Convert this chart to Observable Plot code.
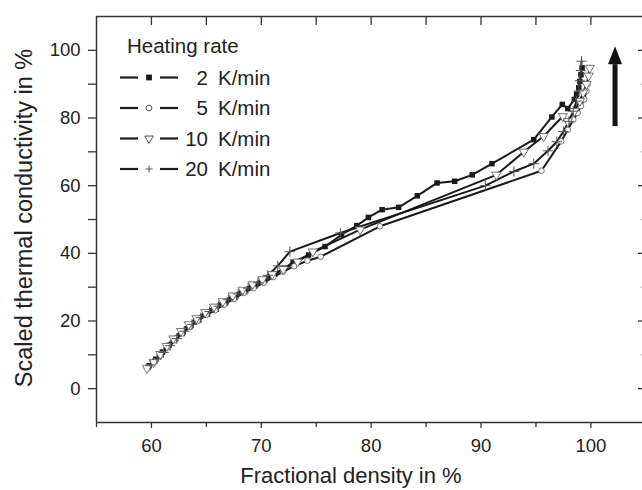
<!DOCTYPE html>
<html><head><meta charset="utf-8">
<script src="https://cdn.jsdelivr.net/npm/d3@7"></script>
<script src="https://cdn.jsdelivr.net/npm/@observablehq/plot@0.6"></script>
<style>
body{margin:0;background:#fff;}
#chart{width:642px;height:490px;}
</style></head><body><div id="chart"></div>
<script>
// ---- data ----
const seriesNames = ["2", "5", "10", "20"];
const rate2x = [59.8,60.4,61.0,61.6,62.2,62.9,63.6,64.3,65.1,65.9,66.7,67.6,68.5,69.4,70.3,71.2,72.1,72.9,74.3,75.8,77.3,78.7,79.75,81.0,82.5,84.2,86.0,87.6,89.2,91.0,94.8,96.45,97.4,97.9,98.5,98.7,98.9,99.0,99.1,99.2];
const rate2y = [6.8,8.7,10.8,12.8,14.7,16.8,18.7,20.3,22.0,23.5,25.3,27.0,28.7,30.3,32.0,33.8,35.6,37.4,39.5,42.0,45.5,48.2,50.6,52.9,53.6,57.0,60.8,61.3,63.2,66.5,73.6,80.3,84.0,82.8,85.5,87.0,88.9,90.8,92.8,94.8];
const rate5x = [59.7,60.3,60.9,61.5,62.1,62.8,63.5,64.2,65.0,65.8,66.6,67.5,68.4,69.3,70.2,71.1,72.0,73.0,74.2,75.4,80.8,95.5,97.3,97.9,98.4,98.8,99.1,99.4,99.6,99.7];
const rate5y = [6.2,8.0,10.0,12.3,14.3,16.3,18.2,20.0,21.8,23.2,24.8,26.5,28.3,29.7,31.3,33.0,34.6,36.2,37.8,39.0,48.0,64.4,73.1,76.5,79.5,81.5,83.5,85.5,88.0,90.0];
const rate10x = [59.6,60.2,60.8,61.4,62.0,62.7,63.4,64.1,64.9,65.7,66.5,67.4,68.3,69.2,70.1,71.0,72.0,73.3,74.7,79.0,91.4,93.9,95.7,97.45,97.9,98.5,99.0,99.3,99.6,99.8,99.9];
const rate10y = [6.0,7.8,10.2,12.6,14.8,17.0,19.0,20.8,22.6,24.2,25.8,27.5,29.2,30.8,32.3,33.8,35.3,37.5,40.5,47.0,63.2,70.0,74.6,80.5,79.0,82.0,85.0,87.5,90.0,92.5,94.8];
const rate20x = [59.9,60.5,61.1,61.7,62.3,63.0,63.7,64.5,65.3,66.1,67.0,67.9,68.8,69.7,70.6,71.5,72.6,77.2,90.4,93.0,94.8,96.1,96.9,97.5,98.0,98.4,98.7,98.9,99.0,99.1,99.15];
const rate20y = [7.0,8.8,10.7,12.7,14.8,17.0,19.0,21.0,22.8,24.4,26.3,28.0,29.7,31.3,33.5,36.3,40.5,46.0,60.0,64.2,66.5,70.3,73.0,76.0,79.0,82.0,85.0,88.0,91.0,94.0,96.8];

const xTicksMajor = [60, 70, 80, 90, 100];
const xTicksMinor = [55, 65, 75, 85, 95];
const xTicksTop = [60, 65, 70, 75, 80, 85, 90, 95, 100];
const yTicksMajor = [0, 20, 40, 60, 80, 100];
const yTicksMinor = [10, 30, 50, 70, 90];
const xDomain = [55, 104.7];
const yDomain = [-10, 110];
const arrowX = [102.2];
const arrowY = [77.6, 95.9];

const xLabel = "Fractional density in %";
const yLabel = "Scaled thermal conductivity in %";
const legendTitle = "Heating rate";
const unitLabel = "K/min";

// ---- build tidy table ----
const seriesX = [rate2x, rate5x, rate10x, rate20x];
const seriesY = [rate2y, rate5y, rate10y, rate20y];
const rows = [];
seriesNames.forEach((s, i) => seriesX[i].forEach((x, j) => rows.push({rate: s, x, y: seriesY[i][j]})));
const of = s => rows.filter(d => d.rate === s);

const font = "'Liberation Sans', Arial, Helvetica, sans-serif";
const ink = "#1a1a1a";
const axisInk = "#333";

const headSymbol = {draw(ctx) { ctx.moveTo(0, -18); ctx.lineTo(7, 0); ctx.lineTo(-7, 0); ctx.closePath(); }};

const plot = Plot.plot({
  width: 642, height: 490,
  marginLeft: 96, marginRight: 0, marginTop: 16, marginBottom: 68,
  style: {fontFamily: font, fontSize: "18.5px", color: "#222", background: "white", overflow: "visible"},
  x: {domain: xDomain},
  y: {domain: yDomain},
  marks: [
    Plot.ruleX([xDomain[0]], {stroke: axisInk, strokeWidth: 1.5}),
    Plot.ruleY([yDomain[0]], {stroke: axisInk, strokeWidth: 1.5}),
    Plot.ruleY([yDomain[1]], {stroke: axisInk, strokeWidth: 1.5}),
    Plot.axisY({ticks: yTicksMajor, tickSize: 8, tickPadding: 8, label: null, stroke: axisInk, strokeWidth: 1.3, fontSize: 18.5}),
    Plot.axisY({ticks: yTicksMinor, tickSize: 8, tickFormat: () => "", label: null, stroke: axisInk, strokeWidth: 1.3}),
    Plot.axisX({ticks: xTicksMajor, tickSize: 6, tickPadding: 10, label: null, stroke: axisInk, strokeWidth: 1.3, fontSize: 18.5}),
    Plot.axisX({ticks: xTicksMinor, tickSize: 5, tickFormat: () => "", label: null, stroke: axisInk, strokeWidth: 1.3}),
    Plot.axisX({anchor: "top", ticks: xTicksTop, tickSize: -8, tickFormat: () => "", label: null, stroke: axisInk, strokeWidth: 1.3}),
    Plot.axisY({anchor: "right", ticks: yTicksMajor, tickSize: -5, tickFormat: () => "", label: null, stroke: axisInk, strokeWidth: 1.3}),
    Plot.axisY({anchor: "right", ticks: yTicksMinor, tickSize: -3, tickFormat: () => "", label: null, stroke: axisInk, strokeOpacity: 0.3}),
    // lines
    ...seriesNames.map(s => Plot.line(of(s), {x: "x", y: "y", stroke: ink, strokeWidth: 2})),
    // markers
    Plot.dot(of("2"), {x: "x", y: "y", symbol: "square", r: 3.1, fill: ink, stroke: "none"}),
    Plot.dot(of("5"), {x: "x", y: "y", symbol: "circle", r: 2.8, fill: "white", stroke: "#666", strokeWidth: 0.9}),
    Plot.dot(of("10"), {x: "x", y: "y", symbol: "triangle", rotate: 180, r: 3.4, fill: "white", stroke: "#666", strokeWidth: 0.9}),
    Plot.dot(of("20"), {x: "x", y: "y", symbol: "plus", r: 3.4, stroke: "#555", strokeWidth: 1}),
    // arrow
    Plot.link(arrowX, {x1: d => d, x2: d => d, y1: () => arrowY[0], y2: () => arrowY[1], stroke: "#111", strokeWidth: 5}),
    Plot.dot(arrowX, {x: d => d, y: () => arrowY[1], symbol: headSymbol, fill: "#111", stroke: "none", r: 5})
  ]
});

// ---- axis titles & legend ----
const svg = d3.select(plot);
svg.append("text").attr("x", 351).attr("y", 483).attr("text-anchor", "middle")
  .attr("font-family", font).attr("font-size", 22).attr("fill", "#222").text(xLabel);
svg.append("text").attr("transform", "translate(32,218) rotate(-90)").attr("text-anchor", "middle")
  .attr("font-family", font).attr("font-size", 23.5).attr("fill", "#222").text(yLabel);

const lg = svg.append("g").attr("font-family", font).attr("font-size", 20.5).attr("fill", "#222").attr("text-anchor", "start");
lg.append("text").attr("x", 127).attr("y", 52.5).attr("text-anchor", "start").text(legendTitle);
const rowY = [77.5, 108, 138.5, 169];
const markerPaths = [
  {d: d3.symbol(d3.symbolSquare, 34)(), fill: ink, stroke: "none"},
  {d: d3.symbol(d3.symbolCircle, 26)(), fill: "white", stroke: "#555"},
  {d: d3.symbol(d3.symbolTriangle, 32)(), fill: "white", stroke: "#555", rot: 180},
  {d: "M-3.5,0H3.5M0,-3.5V3.5", fill: "none", stroke: "#555"}
];
seriesNames.forEach((s, i) => {
  const y = rowY[i];
  lg.append("line").attr("x1", 120).attr("x2", 138).attr("y1", y).attr("y2", y).attr("stroke", ink).attr("stroke-width", 2.2);
  lg.append("line").attr("x1", 160).attr("x2", 178).attr("y1", y).attr("y2", y).attr("stroke", ink).attr("stroke-width", 2.2);
  const m = markerPaths[i];
  lg.append("path").attr("d", m.d).attr("transform", `translate(149,${y})${m.rot ? " rotate(180)" : ""}`)
    .attr("fill", m.fill).attr("stroke", m.stroke).attr("stroke-width", 1);
  lg.append("text").attr("x", 208).attr("y", y + 7).attr("text-anchor", "end").text(s);
  lg.append("text").attr("x", 218).attr("y", y + 7).attr("text-anchor", "start").text(unitLabel);
});

document.getElementById("chart").appendChild(plot);
</script>
</body></html>
